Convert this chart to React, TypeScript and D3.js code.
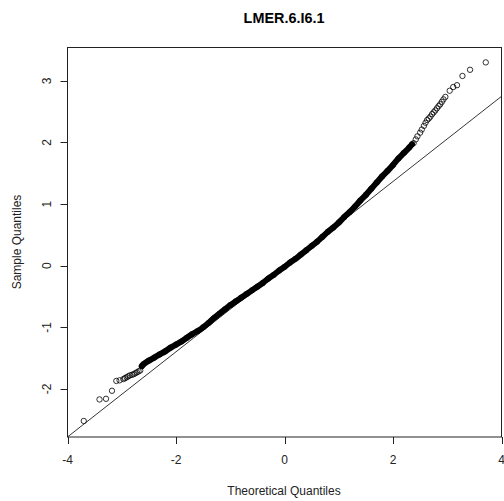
import React from "react";
import * as d3 from "d3";

const title = "LMER.6.I6.1";
const xLabel = "Theoretical Quantiles";
const yLabel = "Sample Quantiles";
const xTicks = [-4, -2, 0, 2, 4];
const yTicks = [-2, -1, 0, 1, 2, 3];

// sparse / chained tail points (theoretical quantile, sample quantile)
const tailTheo = [-3.70, -3.41, -3.29, -3.18, -3.10, -3.04, -2.97, -2.94, -2.91, -2.88, -2.85, -2.81, -2.78, -2.75, -2.72, -2.69, -2.66,
  2.38, 2.42, 2.45, 2.50, 2.53, 2.57, 2.60, 2.63, 2.66, 2.69, 2.72, 2.75, 2.78, 2.81, 2.84, 2.87, 2.90, 2.93, 2.965,
  3.045, 3.11, 3.18, 3.28, 3.42, 3.71];
const tailSample = [-2.52, -2.17, -2.16, -2.03, -1.87, -1.86, -1.84, -1.825, -1.81, -1.795, -1.78, -1.77, -1.76, -1.745, -1.73, -1.715, -1.70,
  1.99, 2.05, 2.10, 2.16, 2.21, 2.27, 2.32, 2.365, 2.39, 2.42, 2.46, 2.49, 2.52, 2.555, 2.59, 2.62, 2.66, 2.70, 2.74,
  2.84, 2.90, 2.93, 3.08, 3.18, 3.30];

// dense body of the sample (read along the thick band)
const bodyTheo = [-2.63, -2.6, -2.5, -2.4, -2.3, -2.2, -2.1, -2.0, -1.9, -1.8, -1.7, -1.6, -1.5, -1.4, -1.3, -1.2, -1.1, -1.0,
  -0.9, -0.8, -0.7, -0.6, -0.5, -0.4, -0.3, -0.2, -0.1, 0.0, 0.1, 0.2, 0.3, 0.4, 0.5, 0.6, 0.7, 0.8, 0.9,
  1.0, 1.1, 1.2, 1.3, 1.4, 1.5, 1.6, 1.7, 1.8, 1.9, 2.0, 2.1, 2.2, 2.3, 2.35];
const bodySample = [-1.63, -1.60, -1.54, -1.49, -1.44, -1.39, -1.33, -1.28, -1.23, -1.17, -1.11, -1.06, -1.00, -0.93, -0.85, -0.78, -0.71, -0.64,
  -0.58, -0.52, -0.46, -0.40, -0.34, -0.28, -0.21, -0.15, -0.08, -0.02, 0.05, 0.11, 0.18, 0.25, 0.32, 0.39, 0.47, 0.55, 0.62,
  0.70, 0.79, 0.87, 0.96, 1.06, 1.15, 1.25, 1.35, 1.45, 1.54, 1.635, 1.74, 1.83, 1.92, 1.97];

// qqline
const lineIntercept = -0.015;
const lineSlope = 0.691;

const W = 504, H = 501;
const FONT = "'Liberation Sans', Arial, sans-serif";

export default function App() {
  const x = d3.scaleLinear().domain([-4, 4]).range([67.5, 501.5]);
  const y = d3.scaleLinear().domain([-2.78, 3.545]).range([437, 47.3]);

  const bodyPts: [number, number][] = bodyTheo.map((q, i) => [q, bodySample[i]]);
  const tailPts: [number, number][] = tailTheo.map((q, i) => [q, tailSample[i]]);
  const bodyPath = d3.line<[number, number]>()
    .x(d => x(d[0])).y(d => y(d[1]))
    .curve(d3.curveCatmullRom)(bodyPts) || "";

  const lx0 = -4, lx1 = 4;
  return (
    <svg width={W} height={H} style={{ position: "absolute", left: 0, top: 0, background: "#fff" }}
      fontFamily={FONT}>
      <defs>
        <clipPath id="plotclip">
          <rect x={67.5} y={47.3} width={434} height={389.7} />
        </clipPath>
      </defs>
      <text x={284} y={23.3} textAnchor="middle" fontWeight="bold" fontSize={14.4} fill="#000">{title}</text>
      <g clipPath="url(#plotclip)">
        <line x1={x(lx0)} y1={y(lineIntercept + lineSlope * lx0)} x2={x(lx1)} y2={y(lineIntercept + lineSlope * lx1)}
          stroke="#000" strokeWidth={0.8} />
        <path d={bodyPath} fill="none" stroke="#000" strokeWidth={6} strokeLinecap="round" />
        {bodyPts.map((d, i) => (
          <circle key={"b" + i} cx={x(d[0])} cy={y(d[1])} r={2.7} fill="none" stroke="#000" strokeWidth={0.8} />
        ))}
        {tailPts.map((d, i) => (
          <circle key={"t" + i} cx={x(d[0])} cy={y(d[1])} r={2.7} fill="none" stroke="#000" strokeWidth={0.8} />
        ))}
      </g>
      <rect x={67.5} y={47.5} width={434} height={389.5} fill="none" stroke="#222" strokeWidth={1} />
      {xTicks.map(t => (
        <g key={"xt" + t}>
          <line x1={Math.round(x(t)) + 0.5} x2={Math.round(x(t)) + 0.5} y1={437} y2={444} stroke="#222" strokeWidth={1} />
          <text x={x(t)} y={463.5} textAnchor="middle" fontSize={12} fill="#222">{t}</text>
        </g>
      ))}
      {yTicks.map(t => (
        <g key={"yt" + t}>
          <line x1={60.5} x2={67.5} y1={Math.round(y(t)) + 0.5} y2={Math.round(y(t)) + 0.5} stroke="#222" strokeWidth={1} />
          <text transform={`translate(50.5,${y(t)}) rotate(-90)`} textAnchor="middle" fontSize={12} fill="#222">{t}</text>
        </g>
      ))}
      <text x={284} y={494.5} textAnchor="middle" fontSize={12} fill="#222">{xLabel}</text>
      <text transform={`translate(21,242) rotate(-90)`} textAnchor="middle" fontSize={12} fill="#222">{yLabel}</text>
    </svg>
  );
}
